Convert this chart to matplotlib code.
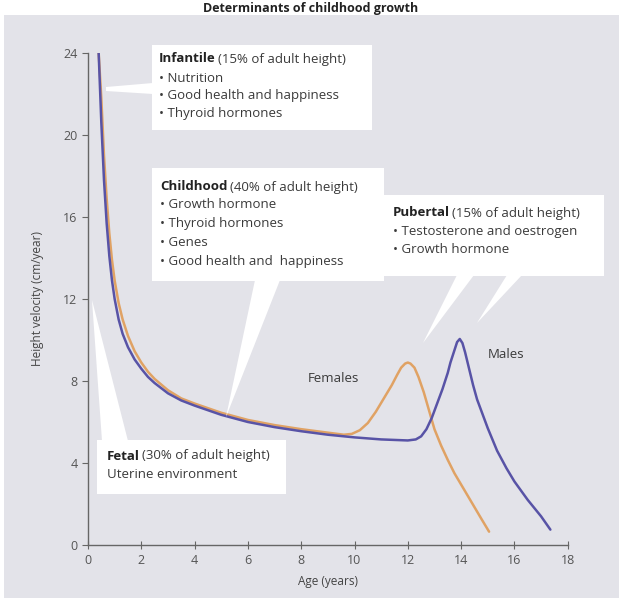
import numpy as np
import matplotlib.pyplot as plt
from matplotlib.patches import Rectangle, Polygon

plt.rcParams["font.family"] = ["Open Sans", "DejaVu Sans"]

# 曲线数据
male_age = [0.40, 0.50, 0.60, 0.70, 0.80, 0.90, 1.00, 1.15, 1.30, 1.50, 1.75, 2.00,
            2.25, 2.50, 3.00, 3.50, 4.00, 5.00, 6.00, 7.00, 8.00, 9.00, 10.00, 11.00,
            12.00, 12.30, 12.50, 12.70, 12.90, 13.10, 13.30, 13.50, 13.60, 13.75,
            13.85, 13.95, 14.05, 14.15, 14.30, 14.45, 14.60, 15.00, 15.35, 15.70,
            16.00, 16.50, 17.00, 17.35]
male_vel = [24.0, 20.6, 17.8, 15.7, 14.1, 12.9, 12.0, 11.0, 10.3, 9.65, 9.05, 8.6,
            8.2, 7.9, 7.4, 7.05, 6.8, 6.35, 6.0, 5.75, 5.55, 5.38, 5.25, 5.15,
            5.1, 5.15, 5.3, 5.65, 6.2, 6.9, 7.6, 8.4, 8.9, 9.5,
            9.9, 10.05, 9.85, 9.4, 8.6, 7.8, 7.1, 5.7, 4.6, 3.75,
            3.1, 2.2, 1.4, 0.75]

female_age = [0.40, 0.50, 0.60, 0.70, 0.80, 0.90, 1.00, 1.15, 1.30, 1.50, 1.75, 2.00,
              2.25, 2.50, 3.00, 3.50, 4.00, 5.00, 6.00, 7.00, 8.00, 9.00, 9.60, 9.90,
              10.20, 10.50, 10.80, 11.10, 11.40, 11.60, 11.75, 11.90, 12.00, 12.10,
              12.25, 12.40, 12.60, 12.80, 13.00, 13.25, 13.50, 13.75, 14.00, 14.25,
              14.50, 14.75, 15.05]
female_vel = [24.0, 21.8, 19.0, 16.9, 15.2, 13.9, 12.9, 11.8, 11.0, 10.2, 9.45, 8.9,
              8.45, 8.1, 7.55, 7.15, 6.9, 6.45, 6.1, 5.85, 5.65, 5.48, 5.38, 5.42,
              5.6, 5.95, 6.5, 7.15, 7.8, 8.3, 8.65, 8.85, 8.9, 8.85,
              8.65, 8.2, 7.45, 6.55, 5.65, 4.85, 4.15, 3.5, 2.95, 2.4,
              1.85, 1.3, 0.65]

x_ticks = [0, 2, 4, 6, 8, 10, 12, 14, 16, 18]
y_ticks = [0, 4, 8, 12, 16, 20, 24]

W, H = 623, 598
BG = "#e3e3e9"
TXT = "#3a3a3a"
FS = 9.5


def fx(px):
    return px / W


def fy(py):
    return 1 - py / H


fig = plt.figure(figsize=(W / 100, H / 100), dpi=100)
fig.patch.set_facecolor("white")
fig.patches.append(Rectangle((fx(4), 0), fx(619) - fx(4), fy(15), transform=fig.transFigure,
                             facecolor=BG, edgecolor="none", zorder=-10))
fig.text(fx(311), fy(12), "Determinants of childhood growth", ha="center", va="baseline",
         fontsize=9, fontweight="bold", color="#222222")

ax = fig.add_axes([fx(88), fy(545), fx(567.7) - fx(88), fy(53) - fy(545)])
ax.set_facecolor("none")
ax.set_xlim(0, 18)
ax.set_ylim(0, 24)
for s in ["top", "right"]:
    ax.spines[s].set_visible(False)
for s in ["left", "bottom"]:
    ax.spines[s].set_color("#666666")
    ax.spines[s].set_linewidth(1.0)
ax.set_xticks(x_ticks)
ax.set_yticks(y_ticks)
ax.tick_params(axis="x", direction="inout", length=6, colors="#666666", labelcolor="#555555",
               labelsize=9)
ax.tick_params(axis="y", direction="out", length=4, colors="#666666", labelcolor="#555555",
               labelsize=9)
ax.set_xlabel("Age (years)", fontsize=8.5, color="#444444", labelpad=6)
ax.set_ylabel("Height velocity (cm/year)", fontsize=8.5, color="#444444", labelpad=14)

ax.plot(female_age, female_vel, color="#e0a264", lw=1.8, solid_capstyle="round",
        solid_joinstyle="round", zorder=3)
ax.plot(male_age, male_vel, color="#5853a6", lw=1.8, solid_capstyle="round",
        solid_joinstyle="round", zorder=4)

fig.text(fx(333), fy(378), "Females", ha="center", va="center", fontsize=FS, color=TXT)
fig.text(fx(506), fy(355), "Males", ha="center", va="center", fontsize=FS, color=TXT)


def poly(pts):
    fig.patches.append(Polygon([(fx(a), fy(b)) for a, b in pts], closed=True,
                               transform=fig.transFigure, facecolor="white",
                               edgecolor="none", zorder=5))


def box(x0, y0, x1, y1):
    fig.patches.append(Rectangle((fx(x0), fy(y1)), fx(x1) - fx(x0), fy(y0) - fy(y1),
                                 transform=fig.transFigure, facecolor="white",
                                 edgecolor="none", zorder=5))


def lines(x, ys, head, rest):
    t = fig.text(fx(x), fy(ys[0]), head[0], ha="left", va="center", fontsize=FS,
                 fontweight="bold", color="#222222", zorder=6)
    fig.canvas.draw()
    bb = t.get_window_extent()
    fig.text(bb.x1 / W + 0.004, fy(ys[0]), head[1], ha="left", va="center", fontsize=FS,
             color=TXT, zorder=6)
    for y, s in zip(ys[1:], rest):
        fig.text(fx(x), fy(y), s, ha="left", va="center", fontsize=FS, color=TXT, zorder=6)


# Infantile
box(152, 45, 372, 130)
poly([(106, 87), (153, 83), (153, 94), (106, 91)])
lines(159, [59, 78, 96, 114], ("Infantile", "(15% of adult height)"),
      ["• Nutrition", "• Good health and happiness", "• Thyroid hormones"])

# Childhood
box(152, 168, 384, 281)
poly([(255, 280), (280, 280), (226, 417)])
lines(160, [187, 205, 224, 242, 261], ("Childhood", "(40% of adult height)"),
      ["• Growth hormone", "• Thyroid hormones", "• Genes", "• Good health and  happiness"])

# Pubertal
box(384, 195, 604, 276)
poly([(457, 275), (474, 275), (423, 343)])
poly([(507, 275), (522, 275), (477, 323)])
lines(393, [213, 232, 250], ("Pubertal", "(15% of adult height)"),
      ["• Testosterone and oestrogen", "• Growth hormone"])

# Fetal
box(97, 440, 286, 494)
poly([(102, 441), (128, 441), (92, 300)])
lines(107, [456, 474], ("Fetal", "(30% of adult height)"), ["Uterine environment"])

fig.savefig("out.png", dpi=100, facecolor=fig.get_facecolor())
